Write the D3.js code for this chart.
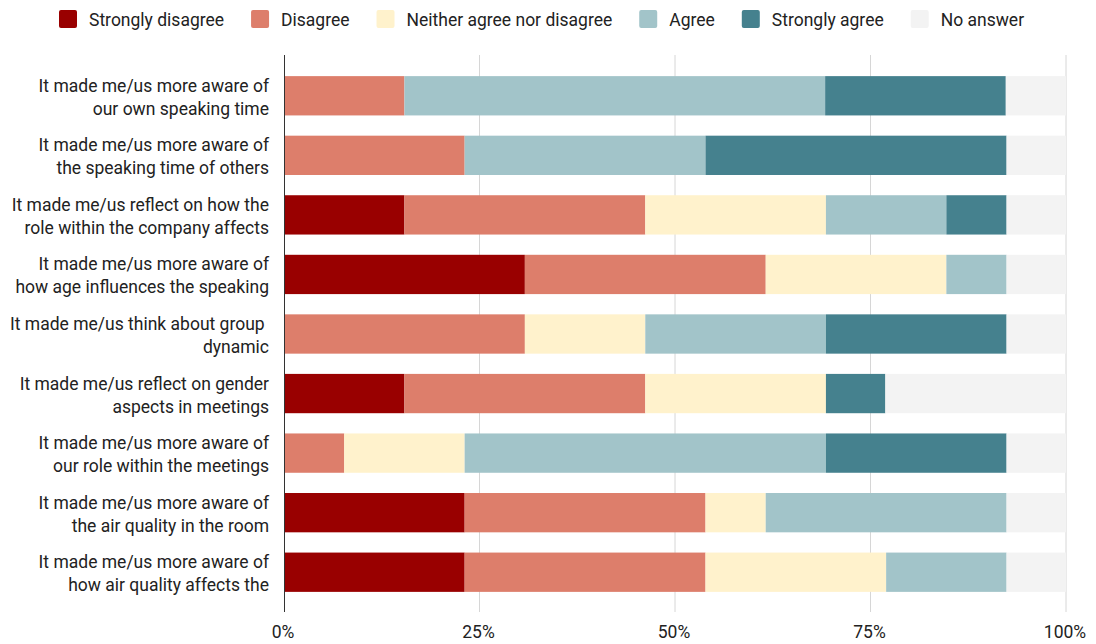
<!DOCTYPE html>
<html>
<head>
<meta charset="utf-8">
<script src="https://cdn.jsdelivr.net/npm/d3@7"></script>
<style>
  body { margin: 0; background: #fff; }
  text { font-family: Roboto, "Noto Sans", sans-serif; fill: #222; }
</style>
</head>
<body>
<div id="chart"></div>
<script>
// statements (two-line labels)
var questions = [
    ["It made me/us more aware of", "our own speaking time"],
    ["It made me/us more aware of", "the speaking time of others"],
    ["It made me/us reflect on how the", "role within the company affects"],
    ["It made me/us more aware of", "how age influences the speaking"],
    ["It made me/us think about group\u00a0", "dynamic"],
    ["It made me/us reflect on gender", "aspects in meetings"],
    ["It made me/us more aware of", "our role within the meetings"],
    ["It made me/us more aware of", "the air quality in the room"],
    ["It made me/us more aware of", "how air quality affects the"]
];

var answers = ["Strongly disagree", "Disagree", "Neither agree nor disagree", "Agree", "Strongly agree", "No answer"];
var colors  = ["#990000", "#dd7e6b", "#fff2cc", "#a2c4c9", "#45818e", "#f3f3f3"];

// percent per answer, one value per question
var stronglyDisagree = [0, 0, 15.4, 30.8, 0, 15.4, 0, 23.1, 23.1];
var disagree         = [15.4, 23.1, 30.8, 30.8, 30.8, 30.8, 7.7, 30.8, 30.8];
var neither          = [0, 0, 23.1, 23.1, 15.4, 23.1, 15.4, 7.7, 23.1];
var agree            = [53.8, 30.8, 15.4, 7.7, 23.1, 0, 46.2, 30.8, 15.4];
var stronglyAgree    = [23.1, 38.5, 7.7, 0, 23.1, 7.6, 23.1, 0, 0];
var noAnswer         = [7.7, 7.6, 7.6, 7.6, 7.6, 23.1, 7.6, 7.6, 7.6];

var ticks = [0, 25, 50, 75, 100];

var svg = d3.select("#chart").append("svg").attr("width", 1096).attr("height", 644);

var x = d3.scaleLinear().domain([0, 100]).range([284, 1066]);
var y = d3.scaleBand().domain(d3.range(questions.length)).range([66, 602]).paddingInner(0.34).paddingOuter(0.17);

var rows = questions.map(function(q, i) {
    return {
        i: i,
        "Strongly disagree": stronglyDisagree[i],
        "Disagree": disagree[i],
        "Neither agree nor disagree": neither[i],
        "Agree": agree[i],
        "Strongly agree": stronglyAgree[i],
        "No answer": noAnswer[i]
    };
});
var stack = d3.stack().keys(answers)(rows);

// gridlines
svg.append("g")
    .selectAll("line")
    .data(ticks.slice(1))
    .enter().append("line")
    .attr("x1", function(d) { return x(d); })
    .attr("x2", function(d) { return x(d); })
    .attr("y1", 55).attr("y2", 612)
    .style("stroke", "#d6d6d6")
    .style("stroke-width", "1px");

// bars
svg.append("g")
    .selectAll("g")
    .data(stack)
    .enter().append("g")
    .style("fill", function(d, k) { return colors[k]; })
    .selectAll("rect")
    .data(function(d) { return d; })
    .enter().append("rect")
    .attr("x", function(d) { return x(d[0]); })
    .attr("width", function(d) { return Math.max(0, x(d[1]) - x(d[0])); })
    .attr("y", function(d, i) { return y(i); })
    .attr("height", y.bandwidth());

// zero line
svg.append("line")
    .attr("x1", x(0) + 0.5).attr("x2", x(0) + 0.5)
    .attr("y1", 55).attr("y2", 612)
    .style("stroke", "#333").style("stroke-width", "1px");

// tick labels
svg.append("g")
    .selectAll("text")
    .data(ticks)
    .enter().append("text")
    .attr("x", function(d) { return x(d) - 1; })
    .attr("y", 638)
    .attr("text-anchor", "middle")
    .style("font-size", "17.5px")
    .text(function(d) { return d + "%"; });

// question labels
var lab = svg.append("g")
    .selectAll("text")
    .data(questions)
    .enter().append("text")
    .attr("text-anchor", "end")
    .style("font-size", "17.5px");
lab.each(function(q, i) {
    var c = y(i) + y.bandwidth() / 2;
    d3.select(this).selectAll("tspan")
        .data(q)
        .enter().append("tspan")
        .attr("x", 269)
        .attr("y", function(d, j) { return c - 4 + j * 23; })
        .text(function(d) { return d; });
});

// legend
var lx = 59;
var legend = svg.append("g");
answers.forEach(function(a, k) {
    legend.append("rect")
        .attr("x", lx).attr("y", 10)
        .attr("width", 18).attr("height", 18)
        .attr("rx", 2)
        .style("fill", colors[k]);
    var t = legend.append("text")
        .attr("x", lx + 30).attr("y", 26)
        .style("font-size", "17.5px")
        .text(a);
    lx += 30 + t.node().getComputedTextLength() + 27;
});
</script>
</body>
</html>
